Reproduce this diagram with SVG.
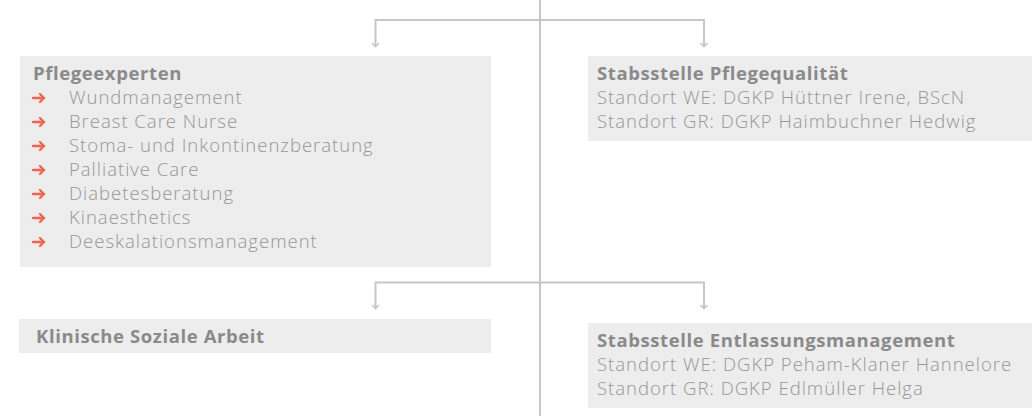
<svg xmlns="http://www.w3.org/2000/svg" width="1034" height="416" viewBox="0 0 1034 416">
<defs>
<style>
.box{fill:#ededed}
.ttl{font-family:"Open Sans","Liberation Sans",sans-serif;font-size:18.5px;font-weight:700;fill:#8a8a8a;letter-spacing:0.6px}
.txt{font-family:"Open Sans","Liberation Sans",sans-serif;font-size:18.5px;font-weight:300;fill:#969696;letter-spacing:1px}
.ln{fill:none;stroke:#c6c6c6;stroke-width:2}
.ah{fill:none;stroke:#c6c6c6;stroke-width:1.6}
.bl{fill:none;stroke:#ee6652;stroke-width:2.4;stroke-linecap:round;stroke-linejoin:round}
</style>
<g id="bullet"><path class="bl" d="M0 0 H11 M7 -4 L11 0 L7 4"/></g>
<g id="arr"><path class="ah" d="M-3.5 -3.5 L0 0 L3.5 -3.5"/></g>
</defs>
<g id="connectors">
<path class="ln" d="M540 0 V416"/>
<path class="ln" d="M375.5 46 V20 H704 V46"/>
<path class="ln" d="M375.5 308 V282.5 H704 V308"/>
<use href="#arr" x="375.5" y="46.5"/>
<use href="#arr" x="704" y="46.5"/>
<use href="#arr" x="375.5" y="308.5"/>
<use href="#arr" x="704" y="308.5"/>
</g>
<g id="pflegeexperten">
<rect class="box" x="20" y="56" width="471" height="211"/>
<text class="ttl" x="33" y="80">Pflegeexperten</text>
<use href="#bullet" x="33" y="98"/>
<use href="#bullet" x="33" y="122"/>
<use href="#bullet" x="33" y="146"/>
<use href="#bullet" x="33" y="170"/>
<use href="#bullet" x="33" y="194"/>
<use href="#bullet" x="33" y="218"/>
<use href="#bullet" x="33" y="242"/>
<text class="txt" x="69" y="104">Wundmanagement</text>
<text class="txt" x="69" y="128">Breast Care Nurse</text>
<text class="txt" x="69" y="152">Stoma- und Inkontinenzberatung</text>
<text class="txt" x="69" y="176">Palliative Care</text>
<text class="txt" x="69" y="200">Diabetesberatung</text>
<text class="txt" x="69" y="224">Kinaesthetics</text>
<text class="txt" x="69" y="248">Deeskalationsmanagement</text>
</g>
<g id="pflegequalitaet">
<rect class="box" x="588" y="56" width="444" height="85"/>
<text class="ttl" x="597" y="80">Stabsstelle Pflegequalität</text>
<text class="txt" x="597" y="104">Standort WE: DGKP Hüttner Irene, BScN</text>
<text class="txt" x="597" y="128">Standort GR: DGKP Haimbuchner Hedwig</text>
</g>
<g id="soziale-arbeit">
<rect class="box" x="19" y="319" width="472" height="34"/>
<text class="ttl" x="36" y="343">Klinische Soziale Arbeit</text>
</g>
<g id="entlassungsmanagement">
<rect class="box" x="588" y="323" width="444" height="85"/>
<text class="ttl" x="597" y="347">Stabsstelle Entlassungsmanagement</text>
<text class="txt" x="597" y="371">Standort WE: DGKP Peham-Klaner Hannelore</text>
<text class="txt" x="597" y="395">Standort GR: DGKP Edlmüller Helga</text>
</g>
</svg>
